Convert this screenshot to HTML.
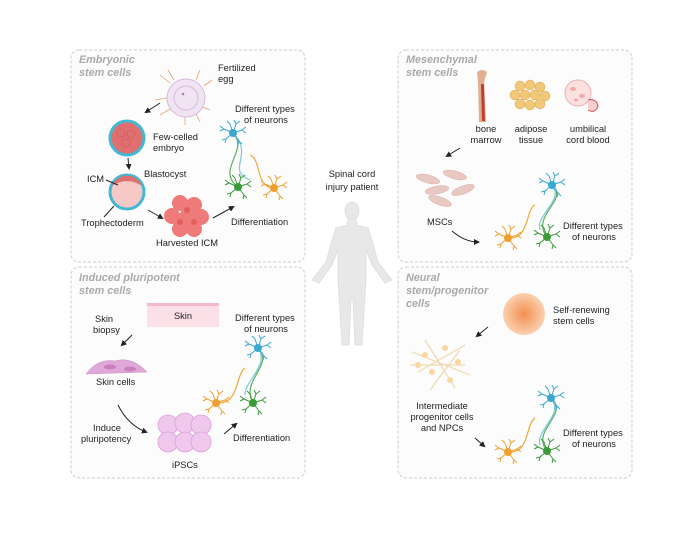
<!DOCTYPE html>
<html><head><meta charset="utf-8"><style>
html,body{margin:0;padding:0;background:#fff}
svg{display:block}
text{font-family:"Liberation Sans",sans-serif;font-size:9.3px;fill:#222}
.t{font-style:italic;font-weight:bold;fill:#aaa;font-size:10.8px}
</style></head><body>
<svg width="697" height="538" viewBox="0 0 697 538">
<defs>
<marker id="ar" markerWidth="6" markerHeight="6" refX="4" refY="3" orient="auto"><path d="M0,0 L6,3 L0,6 z" fill="#222"/></marker>
<g id="nb"><circle r="3.5"/><path d="M0,0 L-9,-4 M-9,-4 L-13,-7 M-9,-4 L-13,-2 M0,0 L-7,6 M-7,6 L-11,7 M-7,6 L-8,10 M0,0 L3,-9 M3,-9 L1,-13 M3,-9 L7,-12 M0,0 L9,-3 M9,-3 L13,-6 M9,-3 L13,0 M0,0 L6,8 M6,8 L9,11 M6,8 L5,12 M0,0 L-3,-9 M-3,-9 L-6,-12" fill="none" stroke-width="1"/></g>
<radialGradient id="og"><stop offset="0" stop-color="#f39050"/><stop offset="1" stop-color="#fbd0b0"/></radialGradient>
</defs>
<g fill="#fcfcfc" stroke="#ccc" stroke-dasharray="3,2" stroke-width="1">
<rect x="71" y="50" width="234" height="212" rx="8"/>
<rect x="398" y="50" width="234" height="212" rx="8"/>
<rect x="71" y="267" width="234" height="211" rx="8"/>
<rect x="398" y="267" width="234" height="211" rx="8"/>
</g>
<text class="t" x="79" y="63">Embryonic</text><text class="t" x="79" y="76">stem cells</text>
<text class="t" x="406" y="63">Mesenchymal</text><text class="t" x="406" y="76">stem cells</text>
<text class="t" x="79" y="281">Induced pluripotent</text><text class="t" x="79" y="294">stem cells</text>
<text class="t" x="406" y="281">Neural</text><text class="t" x="406" y="294">stem/progenitor</text><text class="t" x="406" y="307">cells</text>

<text x="352" y="177" text-anchor="middle" font-size="10">Spinal cord</text>
<text x="352" y="190" text-anchor="middle" font-size="10">injury patient</text>
<g fill="#e8e8e8" stroke="#ddd" stroke-width="0.8">
<ellipse cx="352" cy="211" rx="7" ry="9"/>
<path d="M348,219 L356,219 L357,225 L368,228 L372,240 L378,262 L392,280 L385,283 L372,265 L366,250 L366,280 L364,310 L362,345 L355,345 L353,300 L351,300 L349,345 L342,345 L340,310 L338,280 L338,250 L332,265 L319,283 L312,280 L326,262 L332,240 L336,228 L347,225 z"/>
</g>

<!-- TL -->
<g stroke="#e8a070" stroke-width="0.8" fill="none">
<path d="M160,75 l10,8 M168,70 l6,10 M200,70 l-4,10 M212,80 l-8,6 M155,100 l12,-2 M160,115 l10,-6 M210,110 l-10,-4 M200,122 l-4,-8 M185,125 l0,-8"/>
</g>
<circle cx="186" cy="98" r="19" fill="#f1e4f2" stroke="#d8b8dc"/>
<circle cx="186" cy="98" r="12" fill="none" stroke="#d8b8dc"/>
<circle cx="183" cy="94" r="1.3" fill="#b07ab0"/>
<text x="218" y="71">Fertilized</text><text x="218" y="82">egg</text>
<line x1="160" y1="103" x2="146" y2="112" stroke="#222" marker-end="url(#ar)"/>
<circle cx="127" cy="138" r="17" fill="#e07070" stroke="#42b8d4" stroke-width="3"/>
<circle cx="121" cy="133" r="4" fill="none" stroke="#c85858" stroke-width="0.6"/><circle cx="131" cy="134" r="4" fill="none" stroke="#c85858" stroke-width="0.6"/><circle cx="126" cy="143" r="4" fill="none" stroke="#c85858" stroke-width="0.6"/>
<text x="153" y="140">Few-celled</text><text x="153" y="151">embryo</text>
<line x1="128" y1="158" x2="129" y2="168" stroke="#222" marker-end="url(#ar)"/>
<circle cx="127" cy="192" r="17" fill="#f5c8c6" stroke="#42b8d4" stroke-width="3"/>
<path d="M112,186 A16,16 0 0 1 142,186 Q127,176 112,186 z" fill="#e07070"/>
<text x="144" y="177">Blastocyst</text>
<text x="87" y="182">ICM</text><line x1="106" y1="180" x2="118" y2="185" stroke="#222"/>
<text x="81" y="226">Trophectoderm</text><line x1="104" y1="217" x2="114" y2="206" stroke="#222"/>
<line x1="148" y1="210" x2="162" y2="218" stroke="#222" marker-end="url(#ar)"/>
<g fill="#ee7a7a"><circle cx="180" cy="203" r="8"/><circle cx="194" cy="205" r="8"/><circle cx="172" cy="216" r="8"/><circle cx="187" cy="217" r="8"/><circle cx="201" cy="217" r="8"/><circle cx="180" cy="229" r="8"/><circle cx="194" cy="229" r="8"/></g>
<g fill="#e35e5e"><circle cx="187" cy="210" r="3"/><circle cx="180" cy="222" r="3"/><circle cx="194" cy="222" r="3"/></g>
<text x="156" y="246">Harvested ICM</text>
<line x1="213" y1="218" x2="233" y2="207" stroke="#222" marker-end="url(#ar)"/>
<text x="231" y="225">Differentiation</text>
<text x="235" y="112">Different types</text><text x="244" y="123">of neurons</text>
<path d="M233,133 C250,150 215,170 238,187" stroke="#5cae5c" fill="none" stroke-width="1.2"/>
<path d="M233,133 C255,155 225,170 250,180" stroke="#7ec8dc" fill="none" stroke-width="1.2"/>
<path d="M274,188 C255,188 262,160 250,155" stroke="#f0a838" fill="none" stroke-width="1.2"/>
<use href="#nb" x="233" y="133" fill="#3aa8d0" stroke="#3aa8d0"/>
<use href="#nb" x="238" y="187" fill="#3a9a3a" stroke="#3a9a3a"/>
<use href="#nb" x="274" y="188" fill="#f0a030" stroke="#f0a030"/>

<!-- TR -->
<path d="M477,72 q5,-4 10,0 l-3,10 l2,40 l-7,0 l-1,-40 z" fill="#e0b090"/><path d="M481,84 l3,0 l1,37 l-3,0 z" fill="#c04030"/>
<g fill="#f0c878" stroke="#d8a850" stroke-width="0.5"><circle cx="520" cy="86" r="5"/><circle cx="530" cy="85" r="5"/><circle cx="540" cy="87" r="5"/><circle cx="515" cy="95" r="5"/><circle cx="525" cy="95" r="5"/><circle cx="535" cy="95" r="5"/><circle cx="545" cy="96" r="5"/><circle cx="520" cy="104" r="5"/><circle cx="530" cy="105" r="5"/><circle cx="540" cy="104" r="5"/></g>
<circle cx="578" cy="93" r="13" fill="#fbe0e0" stroke="#e8b0b0"/>
<g fill="#f0a8a8"><ellipse cx="573" cy="89" rx="3" ry="2"/><ellipse cx="582" cy="96" rx="3" ry="2"/><ellipse cx="576" cy="100" rx="2" ry="1.5"/></g>
<path d="M588,100 q8,-2 10,6 q-3,8 -10,4" fill="#f8d0d0" stroke="#d05050"/>
<text x="486" y="132" text-anchor="middle">bone</text><text x="486" y="143" text-anchor="middle">marrow</text>
<text x="531" y="132" text-anchor="middle">adipose</text><text x="531" y="143" text-anchor="middle">tissue</text>
<text x="588" y="132" text-anchor="middle">umbilical</text><text x="588" y="143" text-anchor="middle">cord blood</text>
<line x1="460" y1="148" x2="447" y2="156" stroke="#222" marker-end="url(#ar)"/>
<g fill="#e8c8c0" stroke="#d8b0a8" stroke-width="0.5">
<ellipse cx="428" cy="179" rx="12" ry="4" transform="rotate(15 428 179)"/><ellipse cx="455" cy="175" rx="12" ry="4" transform="rotate(15 455 175)"/>
<ellipse cx="437" cy="190" rx="12" ry="4" transform="rotate(-10 437 190)"/><ellipse cx="463" cy="190" rx="12" ry="4" transform="rotate(-20 463 190)"/>
<ellipse cx="440" cy="201" rx="12" ry="4" transform="rotate(20 440 201)"/></g>
<text x="427" y="225">MSCs</text>
<path d="M452,231 Q465,242 478,242" stroke="#222" fill="none" marker-end="url(#ar)"/>
<text x="563" y="229">Different types</text><text x="572" y="240">of neurons</text>
<path d="M552,185 C570,200 530,215 547,237" stroke="#5cae5c" fill="none" stroke-width="1.2"/>
<path d="M552,185 C565,200 535,215 540,230" stroke="#7ec8dc" fill="none" stroke-width="1.2"/>
<path d="M508,238 C530,240 525,210 535,205" stroke="#f0a838" fill="none" stroke-width="1.2"/>
<use href="#nb" x="552" y="185" fill="#3aa8d0" stroke="#3aa8d0"/>
<use href="#nb" x="508" y="238" fill="#f0a030" stroke="#f0a030"/>
<use href="#nb" x="547" y="237" fill="#3a9a3a" stroke="#3a9a3a"/>

<!-- BL -->
<rect x="147" y="305" width="72" height="22" fill="#fbe0e8"/><rect x="147" y="303" width="72" height="3" fill="#f4b8cc"/>
<text x="183" y="319" text-anchor="middle">Skin</text>
<text x="95" y="322">Skin</text><text x="93" y="333">biopsy</text>
<line x1="132" y1="335" x2="122" y2="345" stroke="#222" marker-end="url(#ar)"/>
<path d="M86,374 Q98,358 115,361 Q132,356 147,372 z" fill="#e0a8d8" stroke="#c888c0" stroke-width="0.5"/>
<ellipse cx="110" cy="367" rx="6" ry="2.5" fill="#c880c0"/><ellipse cx="130" cy="369" rx="6" ry="2.5" fill="#c880c0"/>
<text x="96" y="385">Skin cells</text>
<path d="M118,405 Q128,425 146,432" stroke="#222" fill="none" marker-end="url(#ar)"/>
<text x="93" y="431">Induce</text><text x="81" y="442">pluripotency</text>
<g fill="#f0c8ee" stroke="#d8a0d8" stroke-width="0.8"><circle cx="168" cy="425" r="10"/><circle cx="185" cy="423" r="10"/><circle cx="201" cy="425" r="10"/><circle cx="168" cy="442" r="10"/><circle cx="185" cy="442" r="10"/><circle cx="201" cy="442" r="10"/></g>
<text x="172" y="468">iPSCs</text>
<line x1="224" y1="434" x2="236" y2="424" stroke="#222" marker-end="url(#ar)"/>
<text x="233" y="441">Differentiation</text>
<text x="235" y="321">Different types</text><text x="244" y="332">of neurons</text>
<path d="M258,348 C275,365 240,380 253,403" stroke="#5cae5c" fill="none" stroke-width="1.2"/>
<path d="M258,348 C270,365 245,380 245,395" stroke="#7ec8dc" fill="none" stroke-width="1.2"/>
<path d="M216,403 C240,405 235,375 245,368" stroke="#f0a838" fill="none" stroke-width="1.2"/>
<use href="#nb" x="258" y="348" fill="#3aa8d0" stroke="#3aa8d0"/>
<use href="#nb" x="216" y="403" fill="#f0a030" stroke="#f0a030"/>
<use href="#nb" x="253" y="403" fill="#3a9a3a" stroke="#3a9a3a"/>

<!-- BR -->
<circle cx="524" cy="314" r="21" fill="url(#og)"/>
<text x="553" y="313">Self-renewing</text><text x="553" y="324">stem cells</text>
<line x1="488" y1="327" x2="477" y2="336" stroke="#222" marker-end="url(#ar)"/>
<g stroke="#f0d8b0" stroke-width="1.2"><path d="M412,352 L470,375 M418,372 L465,345 M410,365 L465,365 M425,340 L455,388 M430,390 L460,350"/></g>
<g fill="#f8d8a0"><circle cx="425" cy="355" r="3"/><circle cx="445" cy="348" r="3"/><circle cx="458" cy="362" r="3"/><circle cx="432" cy="372" r="3"/><circle cx="450" cy="380" r="3"/><circle cx="418" cy="365" r="3"/></g>
<text x="442" y="409" text-anchor="middle">Intermediate</text><text x="442" y="420" text-anchor="middle">progenitor cells</text><text x="442" y="431" text-anchor="middle">and NPCs</text>
<line x1="475" y1="438" x2="484" y2="446" stroke="#222" marker-end="url(#ar)"/>
<text x="563" y="436">Different types</text><text x="572" y="447">of neurons</text>
<path d="M551,398 C570,415 530,430 547,451" stroke="#5cae5c" fill="none" stroke-width="1.2"/>
<path d="M551,398 C565,415 535,430 540,445" stroke="#7ec8dc" fill="none" stroke-width="1.2"/>
<path d="M508,452 C530,454 525,425 535,418" stroke="#f0a838" fill="none" stroke-width="1.2"/>
<use href="#nb" x="551" y="398" fill="#3aa8d0" stroke="#3aa8d0"/>
<use href="#nb" x="508" y="452" fill="#f0a030" stroke="#f0a030"/>
<use href="#nb" x="547" y="451" fill="#3a9a3a" stroke="#3a9a3a"/>
</svg>
</body></html>
